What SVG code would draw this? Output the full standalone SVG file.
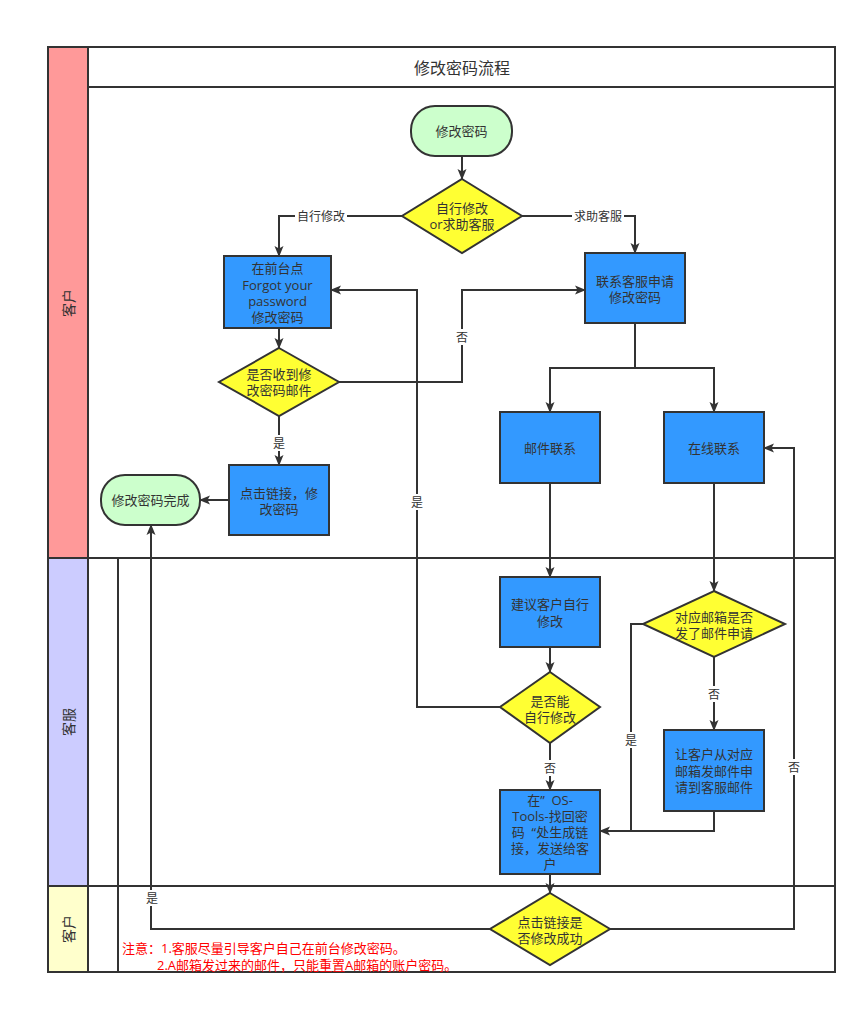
<svg xmlns="http://www.w3.org/2000/svg" width="867" height="1020" viewBox="0 0 867 1020">
<style>
.frame{fill:none;stroke:#333;stroke-width:2}
.ln{fill:none;stroke:#333;stroke-width:2}
.edge{fill:none;stroke:#333;stroke-width:2}
.box{fill:#3399FF;stroke:#333;stroke-width:2}
.dia{fill:#FFFF33;stroke:#333;stroke-width:2}
.term{fill:#CCFFCC;stroke:#333;stroke-width:2}
text{font-family:"Open Sans","Noto Sans CJK SC",sans-serif;fill:#333;text-anchor:middle;dominant-baseline:central}
.t{font-size:13px}
.lbl{font-size:12px}
.lane{font-size:14px}
.title{font-size:16px}
.note{font-size:13px;fill:#FF0000;text-anchor:start}
.bg{fill:#fff}
</style>
<defs>
<marker id="arr" markerWidth="11" markerHeight="10" refX="10" refY="5" orient="auto" markerUnits="userSpaceOnUse">
<path d="M0,0.5 L11,5 L0,9.5 L2.5,5 z" fill="#333"/>
</marker>
</defs>
<rect x="0" y="0" width="867" height="1020" fill="#fff"/>
<g id="pool">
<rect x="48" y="47" width="40" height="511" fill="#FF9999"/>
<rect x="48" y="558" width="40" height="328" fill="#CCCCFF"/>
<rect x="48" y="886" width="40" height="86" fill="#FFFFCC"/>
<rect class="frame" x="48" y="47" width="787" height="925"/>
<line class="ln" x1="88" y1="47" x2="88" y2="972"/>
<line class="ln" x1="88" y1="87" x2="835" y2="87"/>
<line class="ln" x1="48" y1="558" x2="835" y2="558"/>
<line class="ln" x1="48" y1="886" x2="835" y2="886"/>
<line class="ln" x1="118" y1="558" x2="118" y2="972"/>
<text class="title" x="462" y="68">修改密码流程</text>
<text class="lane" transform="translate(68,303) rotate(-90)">客户</text>
<text class="lane" transform="translate(68,722) rotate(-90)">客服</text>
<text class="lane" transform="translate(68,929) rotate(-90)">客户</text>
</g>
<g id="connectors">
<path class="edge" d="M462,156 V179" marker-end="url(#arr)"/>
<path class="edge" d="M402,216 H279 V256" marker-end="url(#arr)"/>
<rect class="bg" x="295" y="208" width="52" height="16"/>
<text class="lbl" x="321" y="216">自行修改</text>
<path class="edge" d="M522,216 H635 V253" marker-end="url(#arr)"/>
<rect class="bg" x="572" y="208" width="52" height="16"/>
<text class="lbl" x="598" y="216">求助客服</text>
<path class="edge" d="M279,328 V348" marker-end="url(#arr)"/>
<path class="edge" d="M339,382 H462 V290 H585" marker-end="url(#arr)"/>
<rect class="bg" x="455" y="329" width="14" height="16"/>
<text class="lbl" x="462" y="337">否</text>
<path class="edge" d="M279,416 V465" marker-end="url(#arr)"/>
<rect class="bg" x="272" y="435" width="14" height="16"/>
<text class="lbl" x="279" y="443">是</text>
<path class="edge" d="M229,500 H200" marker-end="url(#arr)"/>
<path class="edge" d="M635,323 V368 H550 V412" marker-end="url(#arr)"/>
<path class="edge" d="M635,368 H714 V412" marker-end="url(#arr)"/>
<path class="edge" d="M550,483 V577" marker-end="url(#arr)"/>
<path class="edge" d="M714,483 V591" marker-end="url(#arr)"/>
<path class="edge" d="M550,647 V672" marker-end="url(#arr)"/>
<path class="edge" d="M500,707 H417 V290 H331" marker-end="url(#arr)"/>
<rect class="bg" x="410" y="494" width="14" height="16"/>
<text class="lbl" x="417" y="502">是</text>
<path class="edge" d="M550,743 V790" marker-end="url(#arr)"/>
<rect class="bg" x="543" y="760" width="14" height="16"/>
<text class="lbl" x="550" y="768">否</text>
<path class="edge" d="M714,657 V730" marker-end="url(#arr)"/>
<rect class="bg" x="707" y="686" width="14" height="16"/>
<text class="lbl" x="714" y="694">否</text>
<path class="edge" d="M643,624 H631 V831 H600" marker-end="url(#arr)"/>
<rect class="bg" x="624" y="732" width="14" height="16"/>
<text class="lbl" x="631" y="740">是</text>
<path class="edge" d="M714,811 V831 H631"/>
<path class="edge" d="M550,874 V893" marker-end="url(#arr)"/>
<path class="edge" d="M610,929 H794 V448 H764" marker-end="url(#arr)"/>
<rect class="bg" x="787" y="759" width="14" height="16"/>
<text class="lbl" x="794" y="767">否</text>
<path class="edge" d="M490,929 H151 V525" marker-end="url(#arr)"/>
<rect class="bg" x="144" y="890" width="14" height="16"/>
<text class="lbl" x="152" y="898">是</text>
</g>
<g id="n-start">
<rect class="term" x="411" y="106" width="101" height="50" rx="24" ry="24"/>
<text class="t" x="461.5" y="131">修改密码</text>
</g>
<g id="n-choice">
<polygon class="dia" points="462,179 522,216 462,253 402,216"/>
<text class="t" x="462" y="208">自行修改</text>
<text class="t" x="462" y="224">or求助客服</text>
</g>
<g id="n-forgot">
<rect class="box" x="224" y="256" width="107" height="72"/>
<text class="t" x="277.5" y="268">在前台点</text>
<text class="t" x="277.5" y="284.5">Forgot your</text>
<text class="t" x="277.5" y="301">password</text>
<text class="t" x="277.5" y="317">修改密码</text>
</g>
<g id="n-contact">
<rect class="box" x="585" y="253" width="100" height="70"/>
<text class="t" x="635" y="281">联系客服申请</text>
<text class="t" x="635" y="297">修改密码</text>
</g>
<g id="n-received">
<polygon class="dia" points="279,348 339,382 279,416 219,382"/>
<text class="t" x="279" y="373.5">是否收到修</text>
<text class="t" x="279" y="390">改密码邮件</text>
</g>
<g id="n-click">
<rect class="box" x="229" y="465" width="100" height="70"/>
<text class="t" x="279" y="493">点击链接，修</text>
<text class="t" x="279" y="509">改密码</text>
</g>
<g id="n-done">
<rect class="term" x="101" y="475" width="99" height="50" rx="24" ry="24"/>
<text class="t" x="150.5" y="500">修改密码完成</text>
</g>
<g id="n-mail">
<rect class="box" x="500" y="412" width="100" height="71"/>
<text class="t" x="550" y="448">邮件联系</text>
</g>
<g id="n-online">
<rect class="box" x="664" y="412" width="100" height="71"/>
<text class="t" x="714" y="448">在线联系</text>
</g>
<g id="n-suggest">
<rect class="box" x="500" y="577" width="100" height="70"/>
<text class="t" x="550" y="604">建议客户自行</text>
<text class="t" x="550" y="620.5">修改</text>
</g>
<g id="n-can">
<polygon class="dia" points="550,672 600,707 550,743 500,707"/>
<text class="t" x="550" y="701">是否能</text>
<text class="t" x="550" y="717">自行修改</text>
</g>
<g id="n-ostools">
<rect class="box" x="500" y="790" width="100" height="84"/>
<text class="t" x="550" y="800" xml:space="preserve">在”  OS-</text>
<text class="t" x="550" y="816">Tools-找回密</text>
<text class="t" x="550" y="832" xml:space="preserve">码  “处生成链</text>
<text class="t" x="550" y="848">接，发送给客</text>
<text class="t" x="550" y="864">户</text>
</g>
<g id="n-mailbox">
<polygon class="dia" points="714,591 785,624 714,657 643,624"/>
<text class="t" x="714" y="617">对应邮箱是否</text>
<text class="t" x="714" y="633">发了邮件申请</text>
</g>
<g id="n-let">
<rect class="box" x="664" y="730" width="100" height="81"/>
<text class="t" x="714" y="754">让客户从对应</text>
<text class="t" x="714" y="770.5">邮箱发邮件申</text>
<text class="t" x="714" y="786.5">请到客服邮件</text>
</g>
<g id="n-success">
<polygon class="dia" points="550,893 610,929 550,965 490,929"/>
<text class="t" x="550" y="922">点击链接是</text>
<text class="t" x="550" y="938">否修改成功</text>
</g>
<g id="note">
<text class="note" x="122" y="948">注意：1.客服尽量引导客户自己在前台修改密码。</text>
<text class="note" x="157" y="964.5">2.A邮箱发过来的邮件，只能重置A邮箱的账户密码。</text>
</g>
</svg>
